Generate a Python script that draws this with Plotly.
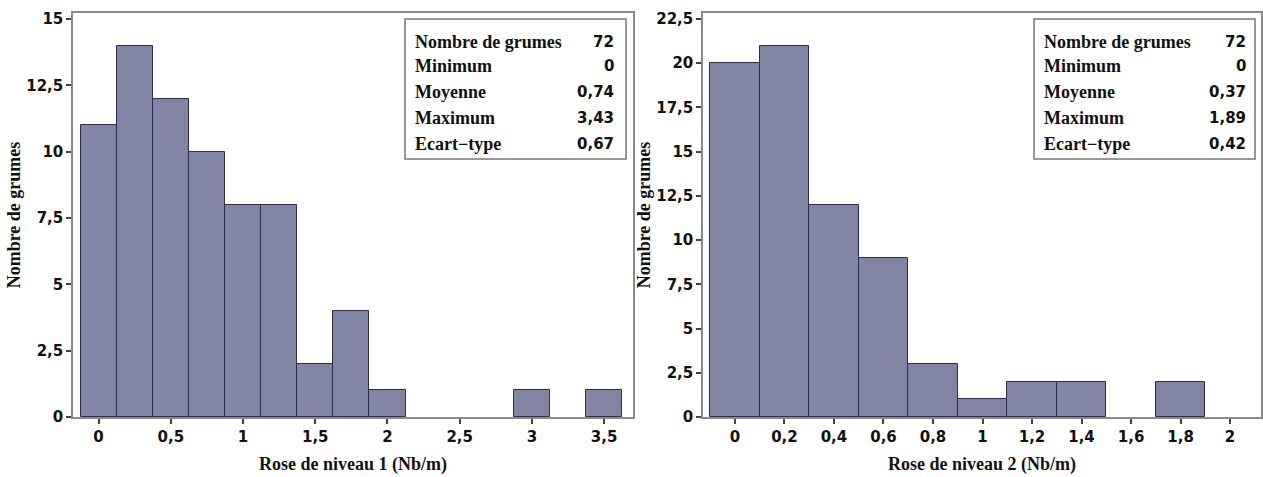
import plotly.graph_objects as go

# Histogram data: bin centres and counts for each rose level
niveau1_centres = [0, 0.25, 0.5, 0.75, 1.0, 1.25, 1.5, 1.75, 2.0, 2.25, 2.5, 2.75, 3.0, 3.25, 3.5]
niveau1_counts = [11, 14, 12, 10, 8, 8, 2, 4, 1, 0, 0, 0, 1, 0, 1]
niveau1_width = 0.25

niveau2_centres = [0, 0.2, 0.4, 0.6, 0.8, 1.0, 1.2, 1.4, 1.6, 1.8]
niveau2_counts = [20, 21, 12, 9, 3, 1, 2, 2, 0, 2]
niveau2_width = 0.2

# Summary statistics shown in the inset boxes
stat_labels = ["Nombre de grumes", "Minimum", "Moyenne", "Maximum", "Ecart\u2212type"]
niveau1_stats = ["72", "0", "0,74", "3,43", "0,67"]
niveau2_stats = ["72", "0", "0,37", "1,89", "0,42"]

# Tick values
x1_ticks = [0, 0.5, 1, 1.5, 2, 2.5, 3, 3.5]
y1_ticks = [0, 2.5, 5, 7.5, 10, 12.5, 15]
x2_ticks = [0, 0.2, 0.4, 0.6, 0.8, 1, 1.2, 1.4, 1.6, 1.8, 2]
y2_ticks = [0, 2.5, 5, 7.5, 10, 12.5, 15, 17.5, 20, 22.5]

W, H = 1263, 477
BAR_FILL = "#8284A4"
BAR_EDGE = "#2E2E48"
SERIF = "Liberation Serif"
SANS = "DejaVu Sans"


def fr(v):
    return ("%g" % v).replace(".", ",")


def px(x):
    return x / W


def py(y):
    return 1 - y / H


def nonzero(counts):
    # empty bins are left blank instead of drawn as flat outlines
    return [c if c else None for c in counts]


fig = go.Figure()
fig.add_trace(go.Bar(x=niveau1_centres, y=nonzero(niveau1_counts), width=niveau1_width,
                     marker=dict(color=BAR_FILL, line=dict(color=BAR_EDGE, width=1)),
                     xaxis="x", yaxis="y", showlegend=False))
fig.add_trace(go.Bar(x=niveau2_centres, y=nonzero(niveau2_counts), width=niveau2_width,
                     marker=dict(color=BAR_FILL, line=dict(color=BAR_EDGE, width=1)),
                     xaxis="x2", yaxis="y2", showlegend=False))

tickfont = dict(family=SANS, size=15, color="#111", weight="bold")
titlefont = dict(family=SERIF, size=18, color="#111", weight="bold")

axis_common = dict(showline=True, mirror=True, linecolor="#8a8a8a", linewidth=1.5,
                   ticks="outside", ticklen=5, tickwidth=1.5, tickcolor="#444",
                   showgrid=False, zeroline=False, tickfont=tickfont, automargin=False)

y_dom = [py(417), py(13)]

fig.update_layout(
    width=W, height=H,
    margin=dict(l=0, r=0, t=0, b=0),
    paper_bgcolor="white", plot_bgcolor="white",
    bargap=0,
    xaxis=dict(domain=[px(73), px(633)], range=[-0.177, 3.70],
               tickvals=x1_ticks, ticktext=[fr(v) for v in x1_ticks],
               title=dict(text="Rose de niveau 1 (Nb/m)", font=titlefont, standoff=13),
               anchor="y", **axis_common),
    yaxis=dict(domain=y_dom, range=[0, 15.23],
               tickvals=y1_ticks, ticktext=[fr(v) for v in y1_ticks],
               title=dict(text="Nombre de grumes", font=titlefont, standoff=1),
               anchor="x", **axis_common),
    xaxis2=dict(domain=[px(703), px(1261)], range=[-0.129, 2.125],
                tickvals=x2_ticks, ticktext=[fr(v) for v in x2_ticks],
                title=dict(text="Rose de niveau 2 (Nb/m)", font=titlefont, standoff=13),
                anchor="y2", **axis_common),
    yaxis2=dict(domain=y_dom, range=[0, 22.84],
                tickvals=y2_ticks, ticktext=[fr(v) for v in y2_ticks],
                title=dict(text="Nombre de grumes", font=titlefont, standoff=1),
                anchor="x2", **axis_common),
)

# Inset statistic boxes
row_y = [42, 66, 92, 118, 144]
boxes = [
    dict(x0=405, x1=626, label_x=413, value_x=616, stats=niveau1_stats),
    dict(x0=1034, x1=1255, label_x=1042, value_x=1248, stats=niveau2_stats),
]
for b in boxes:
    fig.add_shape(type="rect", xref="paper", yref="paper",
                  x0=px(b["x0"]), x1=px(b["x1"]), y0=py(159), y1=py(19),
                  line=dict(color="#777", width=1.5), fillcolor="white")
    for lab, val, yy in zip(stat_labels, b["stats"], row_y):
        fig.add_annotation(x=px(b["label_x"]), y=py(yy), xref="paper", yref="paper",
                           text=lab, showarrow=False, xanchor="left", yanchor="middle",
                           font=dict(family=SERIF, size=18, color="#111", weight="bold"))
        fig.add_annotation(x=px(b["value_x"]), y=py(yy), xref="paper", yref="paper",
                           text=val, showarrow=False, xanchor="right", yanchor="middle",
                           font=dict(family=SANS, size=15, color="#111", weight="bold"))

fig.write_html("out.html")
